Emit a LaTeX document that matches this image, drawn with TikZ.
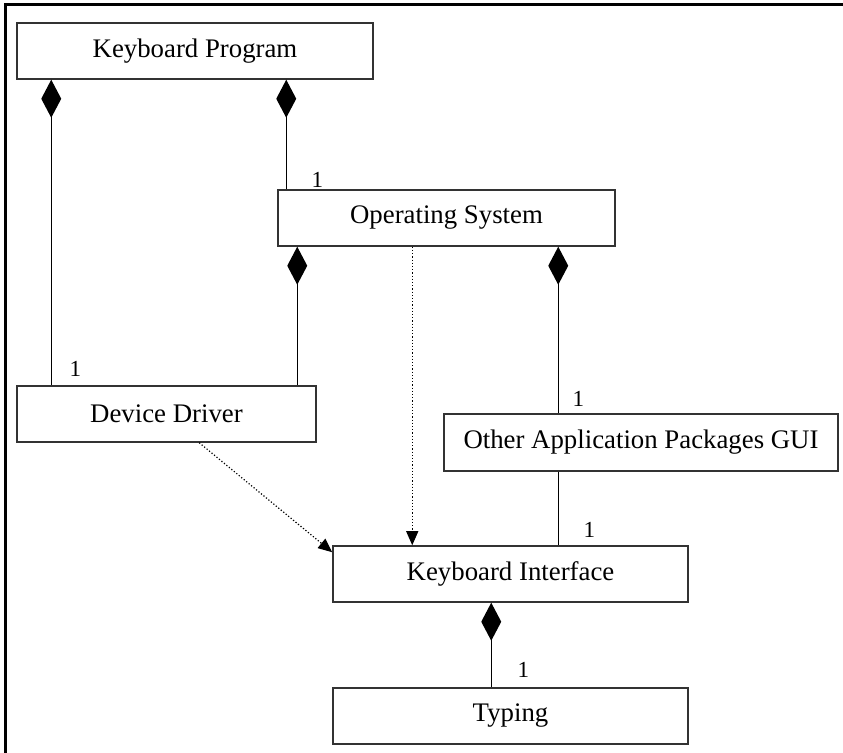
\documentclass[tikz,border=0pt]{standalone}
\usepackage{fontspec}
\setmainfont{Liberation Serif}
\usetikzlibrary{arrows.meta,calc}

\begin{document}
\begin{tikzpicture}[x=0.5pt, y=-0.5pt,
    cls/.style={draw=black!80, line width=0.75pt, fill=white, minimum height=28pt, inner sep=0pt, font=\fontsize{13.4}{15}\selectfont},
    comp/.style={{Diamond[length=19pt, width=10pt]}-, line width=0.7pt},
    assoc/.style={line width=0.7pt},
    dep/.style={-{Triangle[length=7pt, width=6pt]}, densely dotted, line width=0.6pt},
    mult/.style={pos=1, font=\fontsize{11.5}{13}\selectfont, inner sep=0pt}
]
\useasboundingbox (0,0) rectangle (843,753);
\draw[line width=1.5pt] (5.5,760) |- (850,4.5);

\node[cls, minimum width=178pt] (kp) at (195,51) {Keyboard Program};
\node[cls, minimum width=168.5pt] (os) at (446.5,218) {Operating System};
\node[cls, minimum width=149.5pt] (dd) at (166.5,414) {Device Driver};
\node[cls, minimum width=197pt, minimum height=28.5pt] (oap) at (641,442.5) {Other Application Packages GUI};
\node[cls, minimum width=177.5pt] (ki) at (510.5,574) {Keyboard Interface};
\node[cls, minimum width=177.5pt] (ty) at (510.5,716) {Typing};

\coordinate (osdd) at ($(os.south west)+(20,0)$);

% composition links
\draw[comp] ($(kp.south west)+(35,0)$) -- ($(dd.north west)+(35,0)$) node[mult, xshift=12pt, yshift=8pt] {1};
\draw[comp] ($(kp.south west)+(270,0)$) -- ($(os.north west)+(9,0)$) node[mult, xshift=15.5pt, yshift=4.5pt] {1};
\draw[comp] (osdd) -- (osdd |- dd.north);
\draw[comp] ($(os.south west)+(281,0)$) -- ($(oap.north west)+(115,0)$) node[mult, xshift=10pt, yshift=7pt] {1};
\draw[comp] ($(ki.south west)+(159,0)$) -- ($(ty.north west)+(159,0)$) node[mult, xshift=16pt, yshift=8.5pt] {1};
\draw[assoc] ($(oap.south west)+(115,0)$) -- ($(ki.north west)+(226,0)$) node[mult, xshift=15.5pt, yshift=7.5pt] {1};

% dependencies
\draw[dep] ($(os.south west)+(135,0)$) -- ($(ki.north west)+(80,0)$);
\draw[dep] ($(dd.south west)+(183,0)$) -- ($(ki.north west)+(0,7)$);
\end{tikzpicture}
\end{document}
